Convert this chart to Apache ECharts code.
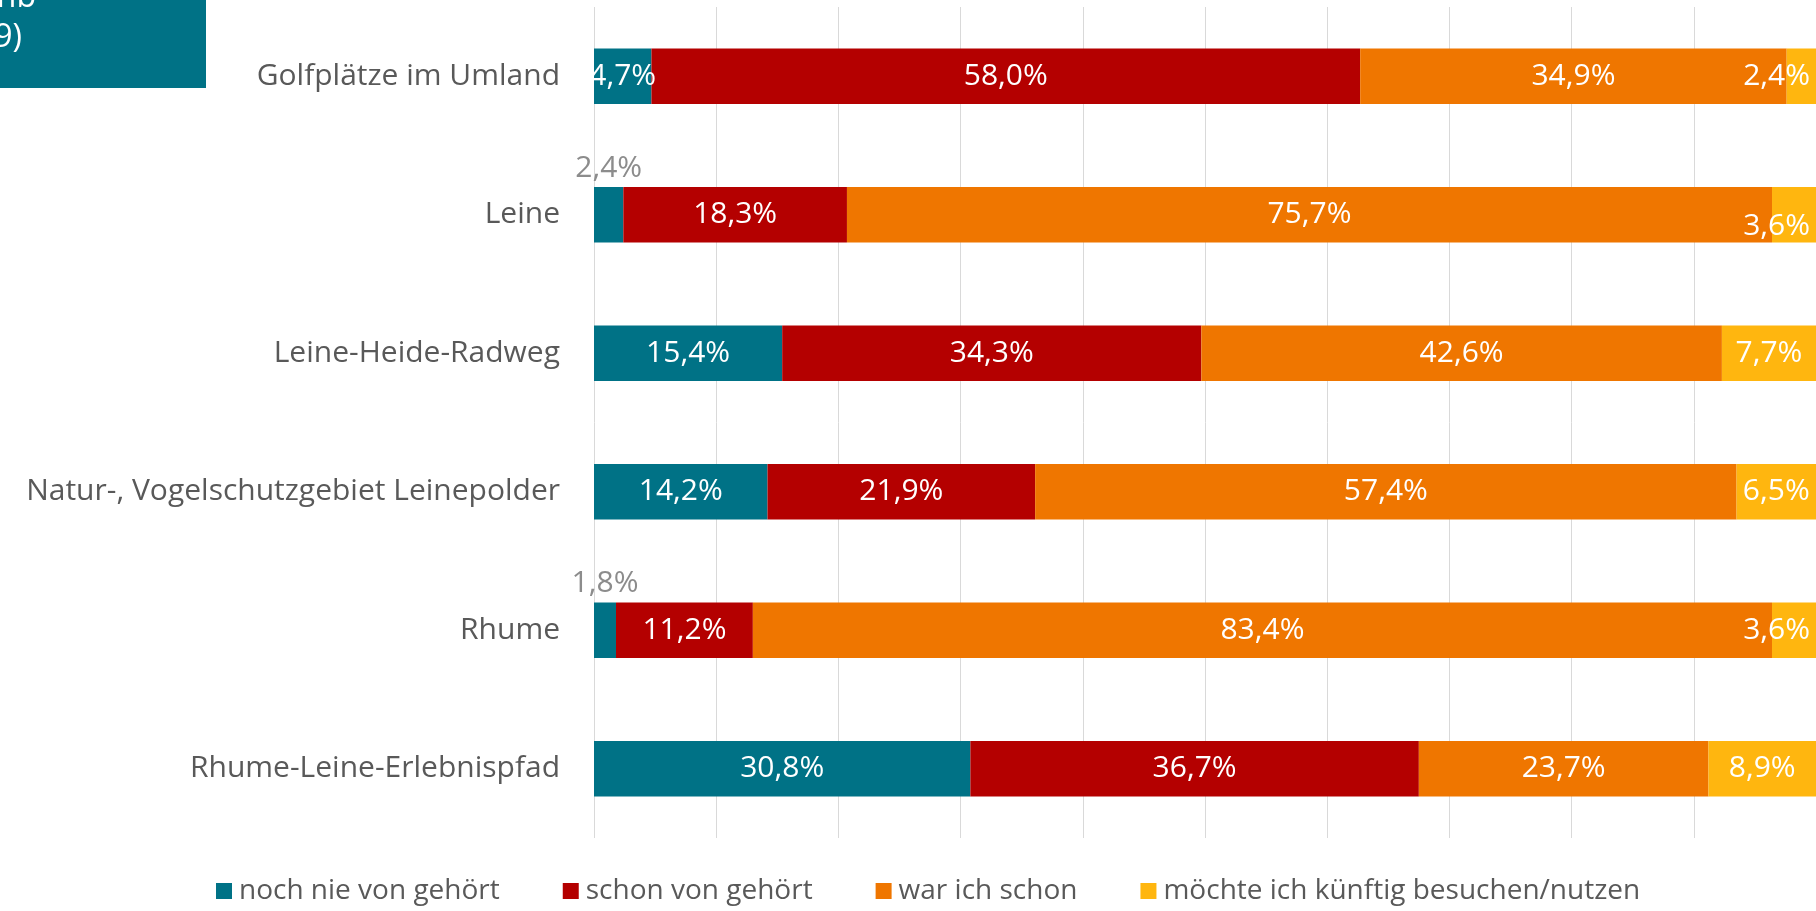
<!DOCTYPE html>
<html>
<head>
<meta charset="utf-8">
<script src="https://cdn.jsdelivr.net/npm/echarts@6/dist/echarts.min.js"></script>
<style>
  html, body { margin: 0; padding: 0; background: #fff; }
  #chart { width: 1816px; height: 911px; }
</style>
</head>
<body>
<div id="chart"></div>
<script>
// Kategorien von oben nach unten
var categories = [
  'Golfplätze im Umland',
  'Leine',
  'Leine-Heide-Radweg',
  'Natur-, Vogelschutzgebiet Leinepolder',
  'Rhume',
  'Rhume-Leine-Erlebnispfad'
]
var seriesNames = ['noch nie von gehört', 'schon von gehört', 'war ich schon', 'möchte ich künftig besuchen/nutzen']
var nieGehoert = [4.7, 2.4, 15.4, 14.2, 1.8, 30.8]
var schonGehoert = [58.0, 18.3, 34.3, 21.9, 11.2, 36.7]
var warSchon = [34.9, 75.7, 42.6, 57.4, 83.4, 23.7]
var moechte = [2.4, 3.6, 7.7, 6.5, 3.6, 8.9]
var colors = ['#007286', '#b40000', '#ef7600', '#ffb60f']

var FONT = '"Open Sans", "Noto Sans", sans-serif'
var FS = 30

function pct(p) {
  return p.value.toFixed(1).replace('.', ',') + '%'
}

var chart = echarts.init(document.getElementById('chart'))

// kleine Werte: Label über dem Balken (grau)
var nieData = nieGehoert.map(function(v) {
  if (v < 3) {
    return { value: v, label: { position: 'top', color: '#8c8c8c', distance: 4 } }
  }
  return v
})
// schmale gelbe Segmente: rechtsbündig
var moechteData = moechte.map(function(v, i) {
  if (v < 5) {
    var item = { value: v, label: { position: 'insideRight', distance: 6 } }
    if (i === 1) item.label.offset = [0, 12]
    return item
  }
  return v
})

function makeSeries(name, data, idx) {
  return {
    name: name,
    type: 'bar',
    stack: 'total',
    barWidth: '40%',
    data: data,
    itemStyle: { color: colors[idx] },
    label: {
      show: true,
      position: 'inside',
      color: '#fff',
      fontFamily: FONT,
      fontSize: FS,
      formatter: pct
    },
    emphasis: { disabled: true }
  }
}

chart.setOption({
  backgroundColor: '#fff',
  animation: false,
  textStyle: { fontFamily: FONT },
  grid: {
    left: 594,
    right: 0,
    top: 7,
    bottom: 73,
    containLabel: false,
    outerBoundsMode: 'none'
  },
  legend: {
    left: 216,
    top: 877,
    padding: 0,
    itemWidth: 16,
    itemHeight: 16,
    itemGap: 63,
    icon: 'rect',
    textStyle: { color: '#595959', fontSize: 28, fontFamily: FONT, padding: [0, 0, 0, 2] },
    data: seriesNames
  },
  xAxis: {
    type: 'value',
    min: 0,
    max: 100,
    interval: 10,
    axisLabel: { show: false },
    axisLine: { show: false },
    axisTick: { show: false },
    splitLine: { show: true, lineStyle: { color: '#d9d9d9', width: 1 } }
  },
  yAxis: {
    type: 'category',
    inverse: true,
    data: categories,
    axisLine: { show: false },
    axisTick: { show: false },
    axisLabel: { color: '#595959', fontSize: FS, fontFamily: FONT, margin: 34 }
  },
  graphic: [
    {
      type: 'rect',
      left: 0,
      top: 0,
      shape: { width: 206, height: 88 },
      style: { fill: '#007286' }
    },
    {
      type: 'text',
      style: { text: 'nb', x: 36, y: 14, align: 'right', verticalAlign: 'bottom', fill: '#fff', fontSize: 32, fontFamily: FONT }
    },
    {
      type: 'text',
      style: { text: '9)', x: 22, y: 54, align: 'right', verticalAlign: 'bottom', fill: '#fff', fontSize: 32, fontFamily: FONT }
    }
  ],
  series: [
    makeSeries(seriesNames[0], nieData, 0),
    makeSeries(seriesNames[1], schonGehoert, 1),
    makeSeries(seriesNames[2], warSchon, 2),
    makeSeries(seriesNames[3], moechteData, 3)
  ]
})
</script>
</body>
</html>
